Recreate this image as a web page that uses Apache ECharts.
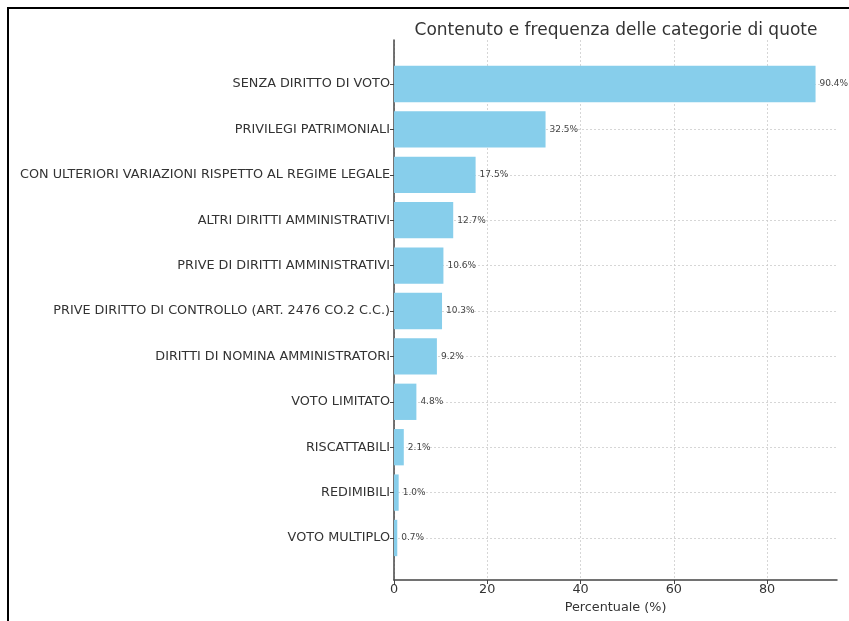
<!DOCTYPE html>
<html>
<head>
<meta charset="utf-8">
<script src="https://cdn.jsdelivr.net/npm/echarts@6/dist/echarts.min.js"></script>
<style>
  html, body { margin: 0; padding: 0; background: #fff; }
  #frame { position: absolute; left: 7px; top: 7px; right: 0; bottom: 0;
           border-top: 2px solid #000; border-left: 2px solid #000; }
  #main { position: absolute; left: 0; top: 0; width: 849px; height: 621px; }
</style>
</head>
<body>
<div id="frame"></div>
<div id="main"></div>
<script>
// dati
var categorie = [
  'SENZA DIRITTO DI VOTO',
  'PRIVILEGI PATRIMONIALI',
  'CON ULTERIORI VARIAZIONI RISPETTO AL REGIME LEGALE',
  'ALTRI DIRITTI AMMINISTRATIVI',
  'PRIVE DI DIRITTI AMMINISTRATIVI',
  'PRIVE DIRITTO DI CONTROLLO (ART. 2476 CO.2 C.C.)',
  'DIRITTI DI NOMINA AMMINISTRATORI',
  'VOTO LIMITATO',
  'RISCATTABILI',
  'REDIMIBILI',
  'VOTO MULTIPLO'
];
var percentuali = [90.4, 32.5, 17.5, 12.7, 10.6, 10.3, 9.2, 4.8, 2.1, 1.0, 0.7];
var tickX = [0, 20, 40, 60, 80];
var maxX = 95;

var font = 'DejaVu Sans';
var chart = echarts.init(document.getElementById('main'));

var option = {
  animation: false,
  title: {
    text: 'Contenuto e frequenza delle categorie di quote',
    left: 611, top: 17, textAlign: 'center',
    textStyle: { fontFamily: font, fontSize: 17, fontWeight: 'normal', color: '#333' }
  },
  grid: [
    // griglia delle barre: categorie dal centro della prima al centro dell'ultima
    { left: 394, right: 12, top: 84, bottom: 83 },
    // cornice con gli assi
    { left: 394, right: 12, top: 40, bottom: 41 }
  ],
  xAxis: [
    { gridIndex: 0, type: 'value', min: 0, max: maxX, show: false },
    {
      gridIndex: 1, type: 'value', min: 0, max: maxX,
      name: 'Percentuale (%)', nameLocation: 'middle', nameGap: 21,
      nameTextStyle: { fontFamily: font, fontSize: 12.8, color: '#333' },
      axisLine: { show: true, lineStyle: { color: '#444', width: 1.5 } },
      axisTick: { show: true, length: 4, customValues: tickX, lineStyle: { color: '#444' } },
      axisLabel: { customValues: tickX, fontFamily: font, fontSize: 12.8, color: '#333', margin: 3 },
      splitLine: { show: true, lineStyle: { type: [2, 2], color: '#ccc', width: 0.8 } }
    }
  ],
  yAxis: [
    {
      gridIndex: 0, type: 'category', data: categorie, inverse: true, boundaryGap: false,
      axisLine: { show: false },
      axisTick: { show: true, length: 4, lineStyle: { color: '#444' } },
      axisLabel: { fontFamily: font, fontSize: 12.8, color: '#333', margin: 4 },
      splitLine: { show: true, lineStyle: { type: [2, 2], color: '#ccc', width: 0.8 } }
    },
    {
      gridIndex: 1, type: 'value', min: 0, max: 1,
      axisLine: { show: true, lineStyle: { color: '#444', width: 1.5 } },
      axisTick: { show: false }, axisLabel: { show: false }, splitLine: { show: false }
    }
  ],
  series: [
    {
      type: 'bar',
      xAxisIndex: 0, yAxisIndex: 0,
      data: percentuali,
      barWidth: '80%',
      clip: false,
      itemStyle: { color: '#87CEEB' },
      label: {
        show: true, position: 'right', distance: 4,
        fontFamily: font, fontSize: 9, color: '#444',
        formatter: function (p) { return p.value.toFixed(1) + '%'; }
      }
    }
  ]
};

chart.setOption(option);
</script>
</body>
</html>
